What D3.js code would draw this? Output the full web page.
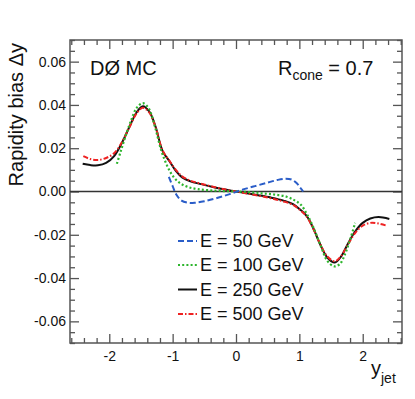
<!DOCTYPE html>
<html><head><meta charset="utf-8">
<script src="https://cdn.jsdelivr.net/npm/d3@7"></script>
<style>
html,body{margin:0;padding:0;background:#fff;}
svg{display:block;font-family:"Liberation Sans",Arial,Helvetica,sans-serif;}
</style></head>
<body><svg id="c" width="415" height="399"></svg>
<script>
// ---- data ----
const seriesLabels = ["E = 50 GeV", "E = 100 GeV", "E = 250 GeV", "E = 500 GeV"];
const x50  = [-1.06,-1.0,-0.94,-0.86,-0.76,-0.65,-0.5,-0.3,-0.1,0.1,0.3,0.5,0.65,0.78,0.88,0.96,1.02,1.06];
const y50  = [0.0068,0.0025,-0.0015,-0.0042,-0.0052,-0.0052,-0.0045,-0.0030,-0.0012,0.0008,0.0025,0.0041,0.0053,0.0059,0.0055,0.0038,0.0015,0.0];
const x100 = [-1.88,-1.82,-1.75,-1.66,-1.57,-1.47,-1.38,-1.28,-1.18,-1.08,-0.98,-0.88,-0.75,-0.6,-0.4,-0.2,0,0.2,0.4,0.6,0.8,0.92,1.02,1.12,1.22,1.33,1.44,1.55,1.64,1.72,1.8,1.88];
const y100 = [0.0128,0.0185,0.025,0.0325,0.0385,0.0408,0.0385,0.030,0.019,0.0115,0.0065,0.0038,0.0020,0.0011,0.0005,0.0002,0,-0.0003,-0.0008,-0.0014,-0.0024,-0.0040,-0.0060,-0.0105,-0.0165,-0.0245,-0.032,-0.0346,-0.0335,-0.029,-0.0223,-0.0145];
const x250 = [-2.42,-2.3,-2.18,-2.05,-1.92,-1.8,-1.68,-1.57,-1.47,-1.37,-1.27,-1.16,-1.05,-0.95,-0.85,-0.72,-0.55,-0.35,-0.15,0,0.15,0.35,0.55,0.75,0.9,1.02,1.12,1.22,1.33,1.44,1.56,1.66,1.76,1.88,2.0,2.12,2.25,2.42];
const y250 = [0.0128,0.0122,0.0121,0.0132,0.0165,0.0225,0.030,0.0365,0.0394,0.037,0.030,0.0188,0.014,0.0095,0.0065,0.0047,0.0034,0.002,0.0008,0,-0.0007,-0.0017,-0.0028,-0.0042,-0.0058,-0.0085,-0.0115,-0.017,-0.0245,-0.0305,-0.0328,-0.030,-0.0245,-0.0185,-0.0145,-0.0125,-0.0118,-0.0127];
const x500 = [-2.41,-2.3,-2.18,-2.05,-1.92,-1.8,-1.68,-1.57,-1.47,-1.37,-1.27,-1.16,-1.05,-0.95,-0.85,-0.72,-0.55,-0.35,-0.15,0,0.15,0.35,0.55,0.75,0.9,1.02,1.12,1.22,1.33,1.44,1.56,1.66,1.76,1.88,2.0,2.12,2.25,2.38];
const y500 = [0.0163,0.0150,0.0146,0.0155,0.0178,0.0228,0.0298,0.036,0.0387,0.0365,0.0298,0.019,0.0142,0.0100,0.0070,0.0050,0.0036,0.0021,0.0008,0,-0.0008,-0.0019,-0.0031,-0.0046,-0.0062,-0.0088,-0.0118,-0.0172,-0.0243,-0.030,-0.0322,-0.0298,-0.0248,-0.0192,-0.0158,-0.0145,-0.0148,-0.0158];
const xTickLabels = [-2,-1,0,1,2];
const yTickLabels = [-0.06,-0.04,-0.02,0.00,0.02,0.04,0.06];

// ---- layout ----
const svg = d3.select("#c");
const L=70, R=402, T=40, B=343;
const x = d3.scaleLinear().domain([-2.62,2.62]).range([L,R]);
const y = d3.scaleLinear().domain([-0.07,0.07]).range([B,T]);
const axisColor = "#555";

const xMinor = d3.range(-2.6,2.61,0.2).map(v=>+v.toFixed(2)).filter(v=>Math.abs(v-Math.round(v))>1e-6);
const yMinor = d3.range(-0.07,0.0701,0.005).map(v=>+v.toFixed(3)).filter(v=>Math.abs(v/0.02-Math.round(v/0.02))>1e-6);

function styleAxis(g){
  g.select(".domain").remove();
  g.selectAll(".tick line").attr("stroke",axisColor).attr("stroke-width",1.3);
  g.selectAll(".tick text").attr("fill","#111").style("font-size","14px").style("font-family","'Liberation Sans',Arial,sans-serif");
}
// bottom
svg.append("g").attr("transform",`translate(0,${B})`)
  .call(d3.axisBottom(x).tickValues(xTickLabels).tickSizeInner(-9).tickSizeOuter(0).tickPadding(8).tickFormat(d3.format("d"))).call(styleAxis);
svg.append("g").attr("transform",`translate(0,${B})`)
  .call(d3.axisBottom(x).tickValues(xMinor).tickSizeInner(-5).tickSizeOuter(0).tickFormat("")).call(styleAxis);
// top
svg.append("g").attr("transform",`translate(0,${T})`)
  .call(d3.axisTop(x).tickValues(xTickLabels).tickSizeInner(-9).tickSizeOuter(0).tickFormat("")).call(styleAxis);
svg.append("g").attr("transform",`translate(0,${T})`)
  .call(d3.axisTop(x).tickValues(xMinor).tickSizeInner(-5).tickSizeOuter(0).tickFormat("")).call(styleAxis);
// left
svg.append("g").attr("transform",`translate(${L},0)`)
  .call(d3.axisLeft(y).tickValues(yTickLabels).tickSizeInner(-9).tickSizeOuter(0).tickPadding(4).tickFormat(d3.format(".2f"))).call(styleAxis);
svg.append("g").attr("transform",`translate(${L},0)`)
  .call(d3.axisLeft(y).tickValues(yMinor).tickSizeInner(-5).tickSizeOuter(0).tickFormat("")).call(styleAxis);
// right
svg.append("g").attr("transform",`translate(${R},0)`)
  .call(d3.axisRight(y).tickValues(yTickLabels).tickSizeInner(-9).tickSizeOuter(0).tickFormat("")).call(styleAxis);
svg.append("g").attr("transform",`translate(${R},0)`)
  .call(d3.axisRight(y).tickValues(yMinor).tickSizeInner(-5).tickSizeOuter(0).tickFormat("")).call(styleAxis);

// fix minus sign style (ROOT uses hyphen)
svg.selectAll(".tick text").text(function(){return d3.select(this).text().replace("\u2212","-");});

// frame
svg.append("rect").attr("x",L).attr("y",T).attr("width",R-L).attr("height",B-T)
  .attr("fill","none").attr("stroke",axisColor).attr("stroke-width",1.5);

// zero line
svg.append("line").attr("x1",L).attr("x2",R).attr("y1",y(0)).attr("y2",y(0))
  .attr("stroke","#333").attr("stroke-width",1.4);

// curves
const styles = [
  {xs:x50, ys:y50, color:"#2a5dc8", dash:"6,3", w:2},
  {xs:x100,ys:y100,color:"#2db52d", dash:"2,2.2", w:2.2},
  {xs:x250,ys:y250,color:"#111111", dash:null, w:2},
  {xs:x500,ys:y500,color:"#ee2222", dash:"5,2,1.5,2", w:2}
];
const line = d3.line().x(d=>x(d[0])).y(d=>y(d[1])).curve(d3.curveCatmullRom.alpha(0.5));
const drawOrder = [2,3,1,0];
drawOrder.forEach(i=>{
  const s = styles[i];
  const pts = s.xs.map((v,k)=>[v,s.ys[k]]);
  const p = svg.append("path").attr("d",line(pts)).attr("fill","none")
    .attr("stroke",s.color).attr("stroke-width",s.w);
  if(s.dash) p.attr("stroke-dasharray",s.dash);
});

// legend
const legY = [247, 271, 295.5, 320];
seriesLabels.forEach((lab,i)=>{
  const s = styles[i];
  const ly = legY[i]-6;
  const l = svg.append("line").attr("x1",178).attr("x2",197).attr("y1",ly).attr("y2",ly)
    .attr("stroke",s.color).attr("stroke-width",s.w);
  if(s.dash) l.attr("stroke-dasharray",s.dash);
  svg.append("text").attr("x",200).attr("y",legY[i]).attr("fill","#111")
    .style("font-size","18px").text(lab);
});

// annotations
svg.append("text").attr("x",90).attr("y",75).attr("fill","#111").style("font-size","20px").text("DØ MC");
const rt = svg.append("text").attr("x",278).attr("y",75).attr("fill","#111").style("font-size","20px");
rt.append("tspan").text("R");
rt.append("tspan").attr("dy",5).style("font-size","14px").text("cone");
rt.append("tspan").attr("dy",-5).text(" = 0.7");

// axis titles
const xt = svg.append("text").attr("x",371).attr("y",375).attr("fill","#111").style("font-size","20px");
xt.append("tspan").text("y");
xt.append("tspan").attr("dy",8).style("font-size","14px").text("jet");

svg.append("text").attr("transform","translate(23,43) rotate(-90)").attr("text-anchor","end")
  .attr("fill","#111").style("font-size","20px").text("Rapidity bias Δy");
</script></body></html>
